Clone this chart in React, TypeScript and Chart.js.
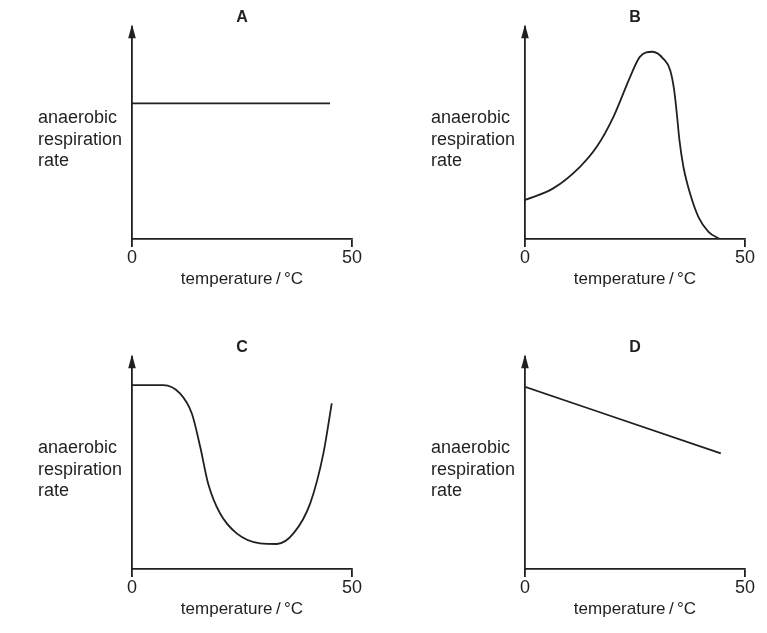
import { useEffect, useRef } from 'react';
import Chart from 'chart.js/auto';

const INK = '#231f20';
const FONT = '"Liberation Sans", Arial, Helvetica, sans-serif';

// temperature in °C, rate in arbitrary units (0 at the x-axis, 100 at the arrow tip)
const tempA = [0, 45];
const rateA = [64, 64];

const tempB = [0, 6.4, 12.5, 16.3, 20.1, 23.9, 26.1, 29.0, 31.4, 33.0, 33.9, 34.5, 35.1, 36.0, 37.5, 39.4, 41.7, 44.3];
const rateB = [18.4, 23.9, 34.1, 43.5, 57.7, 76.6, 86, 88.4, 85.2, 79.7, 70.3, 59.3, 46.7, 34.1, 21.6, 10.5, 3.4, 0];

const tempC = [0, 7.1, 10.9, 13.6, 15.5, 17.3, 20, 23.8, 29.1, 32.9, 36.7, 40.5, 43.5, 45.4];
const rateC = [86.8, 86.8, 82.9, 73.4, 57.7, 40.4, 26.3, 16.8, 12.1, 11.8, 16.8, 31, 54.6, 78.2];

const tempD = [0, 44.5];
const rateD = [86, 54.6];

const panelLetters = ['A', 'B', 'C', 'D'];
const xTicks = [0, 50];
const xTitle = 'temperature\u2009/\u2009°C';
const yLabelLines = ['anaerobic', 'respiration', 'rate'];

const PANEL_W = 374;
const PANEL_H = 300;

// arrow head on the y-axis and the horizontal y label on the left
const axisDecor = {
  id: 'axisDecor',
  afterDraw(chart: Chart) {
    const { ctx, chartArea } = chart;
    const x = chartArea.left;
    ctx.save();
    ctx.fillStyle = INK;
    ctx.beginPath();
    ctx.moveTo(x, chartArea.top - 3);
    ctx.lineTo(x - 3.8, chartArea.top + 11);
    ctx.lineTo(x + 3.8, chartArea.top + 11);
    ctx.closePath();
    ctx.fill();

    ctx.font = `18px ${FONT}`;
    ctx.textAlign = 'left';
    ctx.textBaseline = 'alphabetic';
    yLabelLines.forEach((line, i) => {
      ctx.fillText(line, x - 94, chartArea.top + 96 + i * 21.5);
    });
    ctx.restore();
  },
};

interface PanelProps {
  letter: string;
  temps: number[];
  rates: number[];
  left: number;
  top: number;
}

function Panel({ letter, temps, rates, left, top }: PanelProps) {
  const canvasRef = useRef<HTMLCanvasElement>(null);
  const chartRef = useRef<Chart | null>(null);

  useEffect(() => {
    if (!canvasRef.current) return;
    if (chartRef.current) chartRef.current.destroy();

    const points = temps.map((t, i) => ({ x: t, y: rates[i] }));

    chartRef.current = new Chart(canvasRef.current, {
      type: 'line',
      data: {
        datasets: [
          {
            data: points,
            borderColor: INK,
            borderWidth: 1.8,
            pointRadius: 0,
            fill: false,
            cubicInterpolationMode: 'monotone',
          },
        ],
      },
      options: {
        animation: false,
        responsive: true,
        maintainAspectRatio: false,
        layout: { padding: { left: 132, right: 22, top: 0, bottom: 8 } },
        plugins: {
          legend: { display: false },
          tooltip: { enabled: false },
          title: {
            display: true,
            text: letter,
            color: INK,
            font: { family: FONT, size: 16, weight: 'bold' },
            padding: { top: 8, bottom: 0 },
          },
        },
        scales: {
          x: {
            type: 'linear',
            min: 0,
            max: 50,
            afterBuildTicks: (axis) => {
              axis.ticks = xTicks.map((v) => ({ value: v }));
            },
            ticks: {
              color: INK,
              padding: 0,
              maxRotation: 0,
              font: { family: FONT, size: 18 },
            },
            grid: {
              display: true,
              drawOnChartArea: false,
              drawTicks: true,
              tickLength: 8,
              color: INK,
              lineWidth: 1.8,
            },
            border: { display: true, color: INK, width: 1.8 },
            title: {
              display: true,
              text: xTitle,
              color: INK,
              font: { family: FONT, size: 17 },
              padding: { top: 1, bottom: 2 },
            },
          },
          y: {
            min: 0,
            max: 100,
            ticks: { display: false },
            grid: { display: false, drawTicks: false },
            border: { display: true, color: INK, width: 1.8 },
          },
        },
      },
      plugins: [axisDecor],
    });

    return () => {
      if (chartRef.current) {
        chartRef.current.destroy();
        chartRef.current = null;
      }
    };
  }, [letter, temps, rates]);

  return (
    <div style={{ position: 'absolute', left, top, width: PANEL_W, height: PANEL_H }}>
      <canvas ref={canvasRef} />
    </div>
  );
}

export default function App() {
  return (
    <div style={{ position: 'absolute', left: 0, top: 0, width: 767, height: 633, background: '#fff' }}>
      <Panel letter={panelLetters[0]} temps={tempA} rates={rateA} left={0} top={0} />
      <Panel letter={panelLetters[1]} temps={tempB} rates={rateB} left={393} top={0} />
      <Panel letter={panelLetters[2]} temps={tempC} rates={rateC} left={0} top={330} />
      <Panel letter={panelLetters[3]} temps={tempD} rates={rateD} left={393} top={330} />
    </div>
  );
}
